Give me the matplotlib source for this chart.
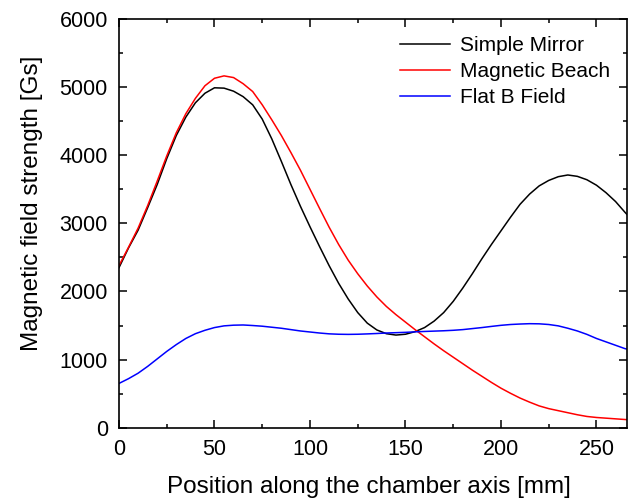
import matplotlib
matplotlib.use("Agg")
import matplotlib.pyplot as plt
from matplotlib.ticker import MultipleLocator

plt.rcParams['font.family'] = ['Liberation Sans', 'DejaVu Sans']

# Axial positions [mm]
position = [0, 5, 10, 15, 20, 25, 30, 35, 40, 45, 50, 55, 60, 65, 70, 75, 80,
            85, 90, 95, 100, 105, 110, 115, 120, 125, 130, 135, 140, 145, 150,
            155, 160, 165, 170, 175, 180, 185, 190, 195, 200, 205, 210, 215,
            220, 225, 230, 235, 240, 245, 250, 255, 260, 265, 266]

# Field strength profiles [Gs]
simple_mirror = [2350, 2640, 2900, 3230, 3570, 3950, 4290, 4560, 4770, 4910,
                 4990, 4985, 4940, 4860, 4740, 4530, 4240, 3910, 3570, 3250,
                 2950, 2660, 2380, 2120, 1890, 1690, 1535, 1435, 1380, 1360,
                 1372, 1410, 1470, 1565, 1690, 1855, 2050, 2260, 2480, 2690,
                 2890, 3090, 3280, 3430, 3550, 3630, 3685, 3710, 3690, 3640,
                 3560, 3450, 3320, 3160, 3130]

magnetic_beach = [2380, 2650, 2930, 3260, 3620, 3990, 4330, 4610, 4835, 5020,
                  5130, 5165, 5140, 5050, 4935, 4740, 4520, 4290, 4040, 3780,
                  3500, 3220, 2945, 2690, 2460, 2260, 2080, 1920, 1780, 1660,
                  1550, 1440, 1335, 1230, 1130, 1035, 940, 845, 755, 665,
                  580, 505, 435, 375, 320, 280, 250, 220, 190, 165,
                  150, 140, 130, 120, 118]

flat_field = [650, 720, 800, 900, 1010, 1120, 1220, 1310, 1380, 1430,
              1470, 1495, 1505, 1508, 1500, 1490, 1475, 1460, 1440, 1420,
              1405, 1390, 1378, 1372, 1370, 1372, 1377, 1383, 1390, 1395,
              1400, 1407, 1413, 1418, 1423, 1430, 1440, 1455, 1470, 1487,
              1503, 1515, 1522, 1527, 1525, 1515, 1495, 1460, 1420, 1370,
              1310, 1260, 1210, 1160, 1155]

fig = plt.figure(figsize=(6.34, 5.0), dpi=100)
ax = fig.add_axes([0.1877, 0.1446, 0.8013, 0.8174])

ax.plot(position, simple_mirror, color='black', lw=1.1, label='Simple Mirror')
ax.plot(position, magnetic_beach, color='#ff0000', lw=1.1, label='Magnetic Beach')
ax.plot(position, flat_field, color='#0000ff', lw=1.1, label='Flat B Field')

ax.set_xlim(0, 266)
ax.set_ylim(0, 6000)
ax.xaxis.set_major_locator(MultipleLocator(50))
ax.xaxis.set_minor_locator(MultipleLocator(25))
ax.yaxis.set_major_locator(MultipleLocator(1000))
ax.yaxis.set_minor_locator(MultipleLocator(500))

ax.tick_params(which='both', direction='in', top=True, right=True,
               labelsize=15.5, width=1.1)
ax.tick_params(which='major', length=5.5, pad=8)
ax.tick_params(which='minor', length=3)
for s in ax.spines.values():
    s.set_linewidth(1.2)

ax.set_xlabel('Position along the chamber axis [mm]', fontsize=17.5)
ax.set_ylabel('Magnetic field strength [Gs]', fontsize=17.5)
ax.xaxis.set_label_coords(0.491, -0.118)
ax.yaxis.set_label_coords(-0.150, 0.55)

ax.legend(loc='upper right', frameon=False, fontsize=15, handlelength=2.4,
          handletextpad=0.45, labelspacing=0.34, borderaxespad=0.42)

fig.savefig('out.png', dpi=100)
